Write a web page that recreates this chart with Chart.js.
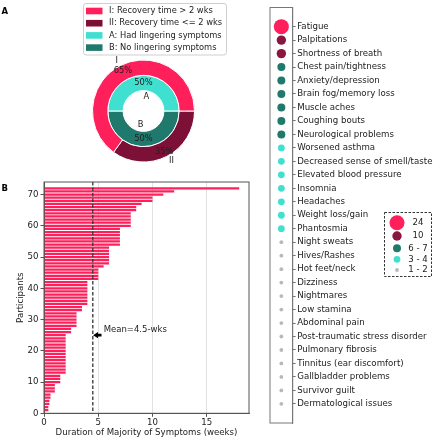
<!DOCTYPE html>
<html lang="en">
<head>
  <meta charset="UTF-8">
  <title>Recovery time and lingering symptoms</title>
  <script src="https://cdn.jsdelivr.net/npm/chart.js"></script>
  <style>
    html, body { margin: 0; padding: 0; background: #fff; }
    #wrap { position: relative; width: 440px; height: 439px; }
    #wrap canvas { position: absolute; left: 0; top: 0; }
  </style>
</head>
<body>
  <div id="wrap">
    <canvas id="pie" width="440" height="439"></canvas>
    <canvas id="bars" width="440" height="439"></canvas>
    <canvas id="symptoms" width="440" height="439"></canvas>
  </div>

  <script>
    // Panel A: recovery time (outer ring) and lingering symptoms (inner ring)
    const recoveryNames = ['I', 'II'];
    const recoveryLegend = ['I: Recovery time > 2 wks', 'II: Recovery time <= 2 wks'];
    const recoveryPct = [65, 35];
    const lingeringNames = ['A', 'B'];
    const lingeringLegend = ['A: Had lingering symptoms', 'B: No lingering symptoms'];
    const lingeringPct = [50, 50];

    // Panel B: weeks per participant, sorted
    const participantWeeks = [
      0.4, 0.4, 0.5, 0.5, 0.6, 0.6, 1, 1, 1, 1.5, 1.5, 1.5,
      2, 2, 2, 2, 2, 2, 2, 2, 2, 2, 2, 2, 2,
      2.5, 2.5, 3, 3, 3, 3, 3, 3.5, 3.5,
      4, 4, 4, 4, 4, 4, 4, 4, 5, 5, 5, 5, 5.5,
      6, 6, 6, 6, 6, 6, 7, 7, 7, 7, 7, 7,
      8, 8, 8, 8, 8, 8.5, 8.5, 9, 10, 10, 11, 12, 18
    ];
    const meanWeeks = 4.5;

    // Right panel: symptoms and how many people reported them
    const symptoms = [
      'Fatigue', 'Palpitations', 'Shortness of breath', 'Chest pain/tightness',
      'Anxiety/depression', 'Brain fog/memory loss', 'Muscle aches', 'Coughing bouts',
      'Neurological problems', 'Worsened asthma', 'Decreased sense of smell/taste',
      'Elevated blood pressure', 'Insomnia', 'Headaches', 'Weight loss/gain', 'Phantosmia',
      'Night sweats', 'Hives/Rashes', 'Hot feet/neck', 'Dizziness', 'Nightmares',
      'Low stamina', 'Abdominal pain', 'Post-traumatic stress disorder', 'Pulmonary fibrosis',
      'Tinnitus (ear discomfort)', 'Gallbladder problems', 'Survivor guilt', 'Dermatological issues'
    ];
    const symptomCounts = [24, 10, 10, 7, 7, 6, 6, 6, 6, 4, 4, 3, 3, 3, 3, 3,
      2, 2, 2, 2, 2, 1, 1, 1, 1, 1, 1, 1, 1];
    const countBins = ['24', '10', '6 - 7', '3 - 4', '1 - 2'];
    const binLowest = [24, 10, 6, 3, 1];

    // colours and sizes
    const PINK = '#ff1f5b', MAROON = '#7c1036', TURQ = '#40e0d0', TEAL = '#1f7a6d';
    const binColors = [PINK, '#8a1640', TEAL, TURQ, '#b8b8b8'];
    const binRadius = [7.5, 4.7, 4, 3.4, 1.9];
    const FONT = '"DejaVu Sans"';

    Chart.defaults.font.family = FONT;
    Chart.defaults.font.size = 8.6;
    Chart.defaults.color = '#222';

    function binOf(count) {
      return binLowest.findIndex(b => count >= b);
    }

    function panelLetter(ctx, letter, x, y) {
      ctx.save();
      ctx.font = 'bold 8.5px ' + FONT;
      ctx.fillStyle = '#000';
      ctx.textBaseline = 'middle';
      ctx.textAlign = 'left';
      ctx.fillText(letter, x, y);
      ctx.restore();
    }

    // labels round the rings + legend box
    const pieExtras = {
      id: 'pieExtras',
      afterDraw(chart) {
        const ctx = chart.ctx;
        ctx.save();
        ctx.font = '8.3px ' + FONT;
        ctx.fillStyle = '#222';
        ctx.textBaseline = 'middle';
        chart.data.datasets.forEach((ds, di) => {
          chart.getDatasetMeta(di).data.forEach((arc, i) => {
            const p = arc.getProps(['x', 'y', 'startAngle', 'endAngle', 'outerRadius']);
            const mid = (p.startAngle + p.endAngle) / 2;
            const c = Math.cos(mid), s = Math.sin(mid);
            const rName = p.outerRadius * ds.nameDist;
            const rPct = p.outerRadius * ds.pctDist;
            let align = c > 0 ? 'left' : 'right';
            if (Math.abs(c) < 1e-6) align = s < 0 ? 'left' : 'right';
            ctx.textAlign = align;
            ctx.fillText(ds.names[i], p.x + c * rName, p.y + s * rName);
            ctx.textAlign = 'center';
            ctx.fillText(ds.data[i] + '%', p.x + c * rPct, p.y + s * rPct);
          });
        });

        // legend
        const items = [
          [recoveryLegend[0], PINK], [recoveryLegend[1], MAROON],
          [lingeringLegend[0], TURQ], [lingeringLegend[1], TEAL]
        ];
        ctx.fillStyle = 'rgba(255,255,255,0.85)';
        ctx.strokeStyle = '#cfcfcf';
        ctx.lineWidth = 1;
        ctx.beginPath();
        ctx.roundRect(83.5, 3.5, 143, 51.5, 2.5);
        ctx.fill();
        ctx.stroke();
        ctx.textAlign = 'left';
        items.forEach(([text, color], k) => {
          const ry = 11 + k * 12.2;
          ctx.fillStyle = color;
          ctx.fillRect(86, ry - 3.3, 16.5, 6.6);
          ctx.fillStyle = '#222';
          ctx.fillText(text, 109, ry);
        });
        ctx.restore();
        panelLetter(ctx, 'A', 1.5, 12);
      }
    };

    new Chart(document.getElementById('pie'), {
      type: 'doughnut',
      data: {
        labels: ['first', 'second'],
        datasets: [
          {
            // drawn clockwise from 3 o'clock, so reversed
            data: recoveryPct.slice().reverse(),
            names: recoveryNames.slice().reverse(),
            backgroundColor: [MAROON, PINK],
            borderColor: '#fff', borderWidth: 1,
            nameDist: 1.1, pctDist: 0.89
          },
          {
            data: lingeringPct.slice().reverse(),
            names: lingeringNames.slice().reverse(),
            backgroundColor: [TEAL, TURQ],
            borderColor: '#fff', borderWidth: 1,
            nameDist: 0.4, pctDist: 0.78
          }
        ]
      },
      options: {
        responsive: false,
        animation: false,
        rotation: 90,
        cutout: '40%',
        layout: { padding: { left: 92, top: 59, right: 245, bottom: 276 } },
        plugins: { legend: { display: false }, tooltip: { enabled: false } }
      },
      plugins: [pieExtras]
    });

    // mean line, arrow and frame for panel B
    const meanMarker = {
      id: 'meanMarker',
      afterDatasetsDraw(chart) {
        const { ctx, chartArea: a, scales: { x, y } } = chart;
        const mx = x.getPixelForValue(meanWeeks);
        ctx.save();
        ctx.strokeStyle = '#333';
        ctx.lineWidth = 1.3;
        ctx.setLineDash([3.5, 2]);
        ctx.beginPath();
        ctx.moveTo(mx, a.top);
        ctx.lineTo(mx, a.bottom);
        ctx.stroke();
        ctx.setLineDash([]);

        // fat arrow pointing at the mean line
        const tip = x.getPixelForValue(meanWeeks + 0.02);
        const tail = x.getPixelForValue(5.3);
        const ay = y.getPixelForValue(25);
        ctx.fillStyle = '#000';
        ctx.beginPath();
        ctx.moveTo(tip, ay);
        ctx.lineTo(tip + 5, ay - 3.2);
        ctx.lineTo(tip + 5, ay - 1.4);
        ctx.lineTo(tail, ay - 1.4);
        ctx.lineTo(tail, ay + 1.4);
        ctx.lineTo(tip + 5, ay + 1.4);
        ctx.lineTo(tip + 5, ay + 3.2);
        ctx.closePath();
        ctx.fill();

        ctx.font = '8.5px ' + FONT;
        ctx.fillStyle = '#222';
        ctx.textBaseline = 'middle';
        ctx.fillText('Mean=' + meanWeeks + '-wks', x.getPixelForValue(5.5), y.getPixelForValue(26.8));

        ctx.strokeStyle = '#555';
        ctx.lineWidth = 1;
        ctx.strokeRect(a.left, a.top, a.right - a.left, a.bottom - a.top);
        ctx.restore();
        panelLetter(ctx, 'B', 1.5, 189);
      }
    };

    new Chart(document.getElementById('bars'), {
      type: 'bar',
      data: {
        datasets: [{
          data: participantWeeks.map((w, i) => ({ x: w, y: i + 1 })),
          backgroundColor: PINK,
          barPercentage: 0.72,
          categoryPercentage: 1
        }]
      },
      options: {
        indexAxis: 'y',
        responsive: false,
        animation: false,
        layout: { padding: { left: 12, top: 182, right: 191, bottom: 0 } },
        plugins: { legend: { display: false }, tooltip: { enabled: false } },
        scales: {
          x: {
            type: 'linear', min: 0, max: 18.9,
            ticks: { stepSize: 5, includeBounds: false, padding: 1 },
            grid: { color: '#e2e2e2', tickColor: '#555', tickLength: 3.5 },
            border: { color: '#555' },
            title: { display: true, text: 'Duration of Majority of Symptoms (weeks)', padding: { top: 1, bottom: 1 } },
            afterFit: s => { s.height = 25.7; }
          },
          y: {
            type: 'linear', min: 0, max: 74, offset: false,
            ticks: { stepSize: 10, includeBounds: false, padding: 2 },
            grid: { drawOnChartArea: false, offset: false, tickColor: '#555', tickLength: 3.5 },
            border: { color: '#555' },
            title: { display: true, text: 'Participants', padding: { top: 4, bottom: 2 } },
            afterFit: s => { s.width = 32; }
          }
        }
      },
      plugins: [meanMarker]
    });

    // frame and size key for the symptom column
    const symptomExtras = {
      id: 'symptomExtras',
      afterDraw(chart) {
        const { ctx, chartArea: a } = chart;
        ctx.save();
        ctx.strokeStyle = '#777';
        ctx.lineWidth = 1;
        ctx.strokeRect(a.left, a.top, a.right - a.left, a.bottom - a.top);

        ctx.setLineDash([2.5, 1.5]);
        ctx.strokeStyle = '#333';
        ctx.strokeRect(384.5, 212.5, 47, 64);
        ctx.setLineDash([]);
        const rows = [222.7, 236, 248.3, 259.3, 270];
        ctx.font = '8.6px ' + FONT;
        ctx.textAlign = 'center';
        ctx.textBaseline = 'middle';
        countBins.forEach((label, k) => {
          ctx.fillStyle = binColors[k];
          ctx.beginPath();
          ctx.arc(397, rows[k], binRadius[k], 0, Math.PI * 2);
          ctx.fill();
          ctx.fillStyle = '#222';
          ctx.fillText(label, 418, rows[k]);
        });
        ctx.restore();
      }
    };

    new Chart(document.getElementById('symptoms'), {
      type: 'scatter',
      data: {
        datasets: [{
          data: symptoms.map((s, i) => ({ x: 0, y: i })),
          pointRadius: symptomCounts.map(c => binRadius[binOf(c)]),
          pointBackgroundColor: symptomCounts.map(c => binColors[binOf(c)]),
          pointBorderWidth: 0
        }]
      },
      options: {
        responsive: false,
        animation: false,
        layout: { padding: { left: 270, top: 4, right: 0, bottom: 16 } },
        plugins: { legend: { display: false }, tooltip: { enabled: false } },
        scales: {
          x: { display: false, min: -1, max: 1 },
          y: {
            position: 'right', reverse: true, min: -1.42, max: 29.42,
            afterBuildTicks: s => { s.ticks = symptoms.map((_, i) => ({ value: i })); },
            ticks: { callback: v => symptoms[v], autoSkip: false, padding: 1.5, font: { size: 8.65 } },
            grid: { drawOnChartArea: false, tickLength: 3, tickColor: '#777' },
            border: { color: '#777' },
            afterFit: s => { s.width = 147.3; }
          }
        }
      },
      plugins: [symptomExtras]
    });
  </script>
</body>
</html>
